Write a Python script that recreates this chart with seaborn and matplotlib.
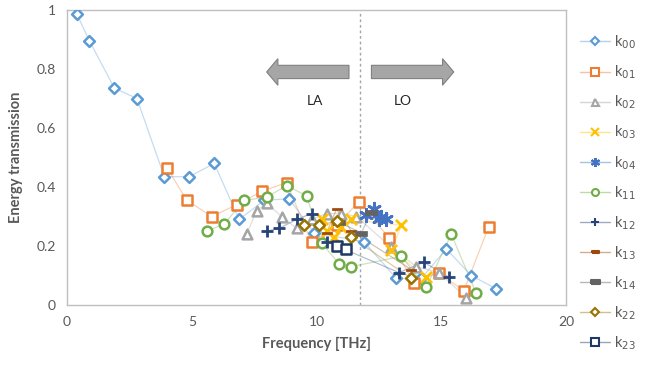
import numpy as np
import pandas as pd
import matplotlib
matplotlib.use("Agg")
import matplotlib.pyplot as plt
import matplotlib.patches as mpatches
from matplotlib.lines import Line2D
from matplotlib.colors import to_rgba
import seaborn as sns

# ---- data ----
k00_x = [0.4, 0.9, 1.9, 2.8, 3.9, 4.9, 5.9, 6.9, 7.9, 8.9, 9.9, 11.9, 13.2, 14.2, 15.2, 16.2, 17.2]
k00_y = [0.985, 0.895, 0.735, 0.70, 0.435, 0.435, 0.48, 0.29, 0.355, 0.36, 0.245, 0.215, 0.09, 0.09, 0.19, 0.10, 0.055]
k01_x = [4.0, 4.8, 5.8, 6.8, 7.8, 8.8, 9.8, 10.8, 11.7, 12.9, 13.9, 14.9, 15.9, 16.9]
k01_y = [0.466, 0.355, 0.30, 0.34, 0.385, 0.415, 0.212, 0.27, 0.35, 0.228, 0.075, 0.11, 0.048, 0.265]
k02_x = [7.2, 7.6, 8.0, 8.6, 9.2, 9.8, 10.4, 11.0, 11.6, 13.0, 14.0, 14.9, 16.0]
k02_y = [0.24, 0.32, 0.345, 0.30, 0.26, 0.29, 0.31, 0.31, 0.30, 0.195, 0.13, 0.11, 0.025]
k03_x = [10.2, 10.4, 10.7, 11.0, 11.4, 13.4, 13.0, 14.4]
k03_y = [0.29, 0.25, 0.23, 0.265, 0.29, 0.27, 0.185, 0.095]
k04_x = [12.0, 12.3, 12.5, 12.6, 12.8]
k04_y = [0.305, 0.325, 0.29, 0.30, 0.29]
k11_x = [5.6, 6.3, 7.1, 8.0, 8.8, 9.6, 10.2, 10.9, 11.4, 13.4, 14.4, 15.4, 16.4]
k11_y = [0.25, 0.275, 0.355, 0.365, 0.405, 0.37, 0.21, 0.14, 0.13, 0.165, 0.06, 0.24, 0.04]
k12_x = [8.0, 8.5, 9.2, 9.8, 10.4, 13.3, 14.3, 15.3]
k12_y = [0.25, 0.26, 0.29, 0.31, 0.215, 0.11, 0.145, 0.095]
k13_x = [10.4, 10.8, 11.4, 13.8]
k13_y = [0.245, 0.325, 0.25, 0.12]
k14_x = [10.9, 11.8, 12.2]
k14_y = [0.28, 0.245, 0.315]
k22_x = [9.5, 10.1, 10.8, 11.4, 13.8]
k22_y = [0.27, 0.27, 0.285, 0.23, 0.09]
k23_x = [10.8, 11.2]
k23_y = [0.20, 0.19]

series_names = ["00", "01", "02", "03", "04", "11", "12", "13", "14", "22", "23"]
series_x = [k00_x, k01_x, k02_x, k03_x, k04_x, k11_x, k12_x, k13_x, k14_x, k22_x, k23_x]
series_y = [k00_y, k01_y, k02_y, k03_y, k04_y, k11_y, k12_y, k13_y, k14_y, k22_y, k23_y]

colors = ["#5B9BD5", "#ED7D31", "#A5A5A5", "#FFC000", "#4472C4", "#70AD47",
          "#264478", "#9E480E", "#636363", "#997300", "#203864"]
rect_thin = [(-1, -0.3), (1, -0.3), (1, 0.3), (-1, 0.3), (-1, -0.3)]
rect_thick = [(-1, -0.4), (1, -0.4), (1, 0.4), (-1, 0.4), (-1, -0.4)]
markers = ["D", "s", "^", "x", (6, 2, 0), "o", "+", rect_thin, rect_thick, "D", "s"]
msizes = [5.5, 7.5, 7, 8, 9, 7, 8, 7, 9, 5.5, 7.5]
hollow = [True, True, True, False, False, True, False, False, False, True, True]

sns.set_theme(style="white")
plt.rcParams["font.family"] = ["Lato", "DejaVu Sans"]
txt = "#595959"

fig = plt.figure(figsize=(6.47, 3.69), dpi=100)
ax = fig.add_axes([0.1036, 0.1734, 0.7713, 0.7995])

handles = []
for name, xs, ys, c, m, ms, h in zip(series_names, series_x, series_y, colors, markers, msizes, hollow):
    df = pd.DataFrame({"x": xs, "y": ys})
    sns.lineplot(data=df, x="x", y="y", sort=False, estimator=None, ax=ax,
                 color=c, alpha=0.35, linewidth=0.9, zorder=2)
    kw = dict(marker=m, s=ms ** 2, zorder=3, legend=False)
    if h:
        sns.scatterplot(data=df, x="x", y="y", ax=ax, facecolor="white",
                        edgecolor=c, linewidth=1.8, **kw)
    elif m in ("x", "+") or isinstance(m, tuple):
        sns.scatterplot(data=df, x="x", y="y", ax=ax, color=c,
                        linewidth=2.0, **kw)
    else:
        sns.scatterplot(data=df, x="x", y="y", ax=ax, color=c,
                        edgecolor=c, linewidth=0.5, **kw)
    handles.append(Line2D([0], [0], color=to_rgba(c, 0.45), lw=1.0,
                          marker=m, markersize=ms * 0.72,
                          markerfacecolor=("white" if h else c),
                          markeredgecolor=c, markeredgewidth=1.5,
                          label="k$_{" + name + "}$"))

# vertical divider and arrows
ax.axvline(11.75, color="#A6A6A6", linestyle=(0, (2, 2)), linewidth=1.0, zorder=1)
ax.add_patch(mpatches.FancyArrow(11.3, 0.79, -3.3, 0, width=0.045, head_width=0.09,
                                 head_length=0.45, length_includes_head=True,
                                 facecolor="#A6A6A6", edgecolor="#808080", linewidth=0.8, zorder=1))
ax.add_patch(mpatches.FancyArrow(12.2, 0.79, 3.3, 0, width=0.045, head_width=0.09,
                                 head_length=0.45, length_includes_head=True,
                                 facecolor="#A6A6A6", edgecolor="#808080", linewidth=0.8, zorder=1))
ax.text(9.95, 0.69, "LA", ha="center", va="center", fontsize=10, color="#262626")
ax.text(13.45, 0.69, "LO", ha="center", va="center", fontsize=10, color="#262626")

ax.set_xlim(0, 20)
ax.set_ylim(0, 1)
ax.set_xticks([0, 5, 10, 15, 20])
ax.set_yticks([0, 0.2, 0.4, 0.6, 0.8, 1.0])
ax.set_yticklabels(["0", "0.2", "0.4", "0.6", "0.8", "1"])
ax.tick_params(axis="both", labelsize=10, colors=txt, length=0, pad=8)
ax.set_xlabel("Frequency [THz]", fontsize=10.5, fontweight="bold", color=txt, labelpad=6)
ax.set_ylabel("Energy transmission", fontsize=10.5, fontweight="bold", color=txt, labelpad=10)
for sp in ax.spines.values():
    sp.set_color("#BFBFBF")
    sp.set_linewidth(1.0)
ax.grid(False)

fig.legend(handles=handles, loc="upper left", bbox_to_anchor=(0.888, 0.925),
           frameon=False, fontsize=10.5, labelcolor=txt, handlelength=2.0,
           handletextpad=0.3, labelspacing=0.85, borderaxespad=0)

fig.savefig("out.png", dpi=100)
